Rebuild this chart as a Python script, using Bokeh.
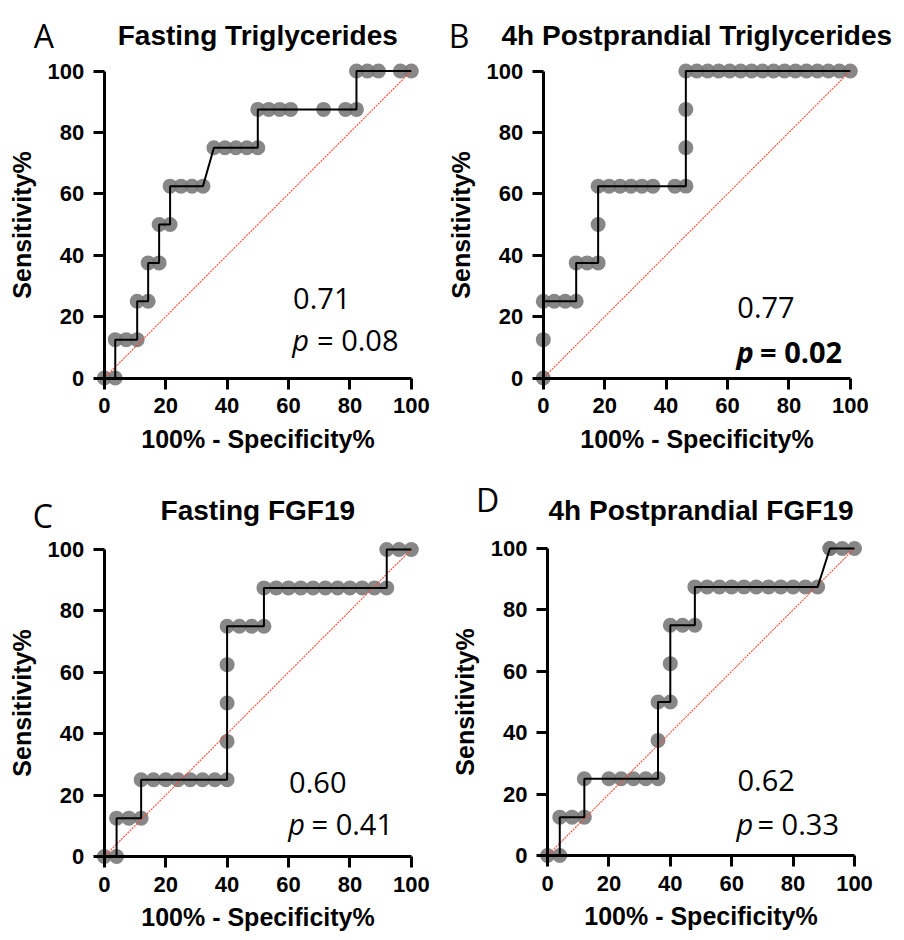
from bokeh.plotting import figure
from bokeh.models import Range1d, Label, FixedTicker
from bokeh.layouts import row, column
from bokeh.embed import file_html
from bokeh.resources import INLINE

# ---------------- data ----------------
panel_letters = ["A", "B", "C", "D"]
panel_titles = ["Fasting Triglycerides", "4h Postprandial Triglycerides",
                "Fasting FGF19", "4h Postprandial FGF19"]
auc_text = ["0.71", "0.77", "0.60", "0.62"]
p_text = ["= 0.08", "= 0.02", "= 0.41", "= 0.33"]
p_bold = [False, True, False, False]

fpr_A = [0, 3.57, 3.57, 7.14, 10.71, 10.71, 14.29, 14.29, 17.86, 17.86, 21.43, 21.43,
         25.0, 28.57, 32.14, 35.71, 39.29, 42.86, 46.43, 50.0, 50.0, 53.57, 57.14,
         60.71, 71.43, 78.57, 82.14, 82.14, 85.71, 89.29, 96.43, 100]
tpr_A = [0, 0, 12.5, 12.5, 12.5, 25, 25, 37.5, 37.5, 50, 50, 62.5,
         62.5, 62.5, 62.5, 75, 75, 75, 75, 75, 87.5, 87.5, 87.5,
         87.5, 87.5, 87.5, 87.5, 100, 100, 100, 100, 100]

fpr_B = [0, 0, 0, 3.57, 7.14, 10.71, 10.71, 14.29, 17.86, 17.86, 17.86, 21.43, 25.0,
         28.57, 32.14, 35.71, 42.86, 46.43, 46.43, 46.43, 46.43, 50.0, 53.57, 57.14,
         60.71, 64.29, 67.86, 71.43, 75.0, 78.57, 82.14, 85.71, 89.29, 92.86, 96.43, 100]
tpr_B = [0, 12.5, 25, 25, 25, 25, 37.5, 37.5, 37.5, 50, 62.5, 62.5, 62.5,
         62.5, 62.5, 62.5, 62.5, 62.5, 75, 87.5, 100, 100, 100, 100,
         100, 100, 100, 100, 100, 100, 100, 100, 100, 100, 100, 100]

fpr_C = [0, 4, 4, 8, 12, 12, 16, 20, 24, 28, 32, 36, 40, 40, 40, 40, 40, 44, 48, 52,
         52, 56, 60, 64, 68, 72, 76, 80, 84, 88, 92, 92, 96, 100]
tpr_C = [0, 0, 12.5, 12.5, 12.5, 25, 25, 25, 25, 25, 25, 25, 25, 37.5, 50, 62.5, 75,
         75, 75, 75, 87.5, 87.5, 87.5, 87.5, 87.5, 87.5, 87.5, 87.5, 87.5, 87.5, 87.5,
         100, 100, 100]

fpr_D = [0, 4, 4, 8, 12, 12, 20, 24, 28, 32, 36, 36, 36, 40, 40, 40, 44, 48, 48,
         52, 56, 60, 64, 68, 72, 76, 80, 84, 88, 92, 92, 96, 100]
tpr_D = [0, 0, 12.5, 12.5, 12.5, 25, 25, 25, 25, 25, 25, 37.5, 50, 50, 62.5, 75, 75,
         75, 87.5, 87.5, 87.5, 87.5, 87.5, 87.5, 87.5, 87.5, 87.5, 87.5, 87.5, 100,
         100, 100, 100]

diag = [0, 100]
axis_ticks = [0, 20, 40, 60, 80, 100]

BOLD = "Liberation Sans"
ANN = "Open Sans"
W_LEFT, W_RIGHT, H = 436, 468, 470
S = 3.07  # pixels per data unit


def make_panel(i, fpr, tpr, W, ox, oy, letter_xy, title_y, ann_x, eq_x, y1, y2):
    p = figure(width=W, height=H, min_border=0,
               min_border_left=0, min_border_right=0,
               min_border_top=0, min_border_bottom=0,
               x_range=Range1d(-ox / S, (W - ox) / S),
               y_range=Range1d(-(H - oy) / S, oy / S),
               output_backend="svg", toolbar_location=None,
               outline_line_color=None, background_fill_color="white",
               border_fill_color="white")
    p.grid.visible = False

    for ax in (p.xaxis[0], p.yaxis[0]):
        ax.fixed_location = 0
        ax.bounds = (0, 100)
        ax.ticker = FixedTicker(ticks=axis_ticks)
        ax.axis_line_width = 3
        ax.axis_line_color = "black"
        ax.major_tick_line_width = 3
        ax.major_tick_line_color = "black"
        ax.major_tick_out = 11
        ax.major_tick_in = 0
        ax.minor_tick_line_color = None
        ax.major_label_text_font = BOLD
        ax.major_label_text_font_style = "bold"
        ax.major_label_text_font_size = "22px"
        ax.major_label_text_color = "black"
        ax.axis_label_text_font = BOLD
        ax.axis_label_text_font_style = "bold"
        ax.axis_label_text_font_size = "25px"
        ax.axis_label_text_color = "black"
    p.xaxis[0].axis_label = "100% - Specificity%"
    p.yaxis[0].axis_label = "Sensitivity%"
    p.xaxis[0].major_label_standoff = 9
    p.yaxis[0].major_label_standoff = 9
    p.xaxis[0].axis_label_standoff = 8
    p.yaxis[0].axis_label_standoff = 9

    p.scatter(fpr, tpr, size=15, marker="circle", fill_color="#7a7a7a",
              fill_alpha=0.9, line_color=None)
    p.line(diag, diag, line_color="#ff4a36", line_width=1.1, line_dash="2 1")
    p.line(fpr, tpr, line_color="black", line_width=2)

    p.add_layout(Label(x=letter_xy[0], y=letter_xy[1], text=panel_letters[i],
                       text_font=ANN, text_font_size="32px",
                       text_baseline="alphabetic", text_color="black"))
    p.add_layout(Label(x=50, y=title_y, text=panel_titles[i], text_align="center",
                       text_font=BOLD, text_font_style="bold", text_font_size="28px",
                       text_baseline="alphabetic", text_color="black"))
    p.add_layout(Label(x=ann_x, y=y1, text=auc_text[i], text_font=ANN,
                       text_font_size="29px", text_baseline="alphabetic",
                       text_color="black"))
    st = "bold italic" if p_bold[i] else "italic"
    st2 = "bold" if p_bold[i] else "normal"
    p.add_layout(Label(x=ann_x - 0.3, y=y2, text="p", text_font=ANN,
                       text_font_style=st, text_font_size="29px",
                       text_baseline="alphabetic", text_color="black"))
    p.add_layout(Label(x=eq_x, y=y2, text=p_text[i], text_font=ANN,
                       text_font_style=st2, text_font_size="29px",
                       text_baseline="alphabetic", text_color="black"))
    return p


pA = make_panel(0, fpr_A, tpr_A, W_LEFT, 103.8, 377.5, (-23.0, 111.6), 111.6, 61.5, 69.3, 26.0, 12.4)
pB = make_panel(1, fpr_B, tpr_B, W_RIGHT, 542.8 - W_LEFT, 377.5, (-30.8, 111.6), 111.6, 63.2, 70.6, 22.9, 8.7)
pC = make_panel(2, fpr_C, tpr_C, W_LEFT, 103.8, 386.0, (-23.3, 111.0), 112.6, 60.2, 67.5, 24.2, 10.7)
pD = make_panel(3, fpr_D, tpr_D, W_RIGHT, 547.0 - W_LEFT, 385.0, (-23.3, 115.9), 112.3, 61.9, 68.4, 24.3, 10.5)

layout = column(row(pA, pB), row(pC, pD))
open("out.html", "w").write(file_html(layout, INLINE))
